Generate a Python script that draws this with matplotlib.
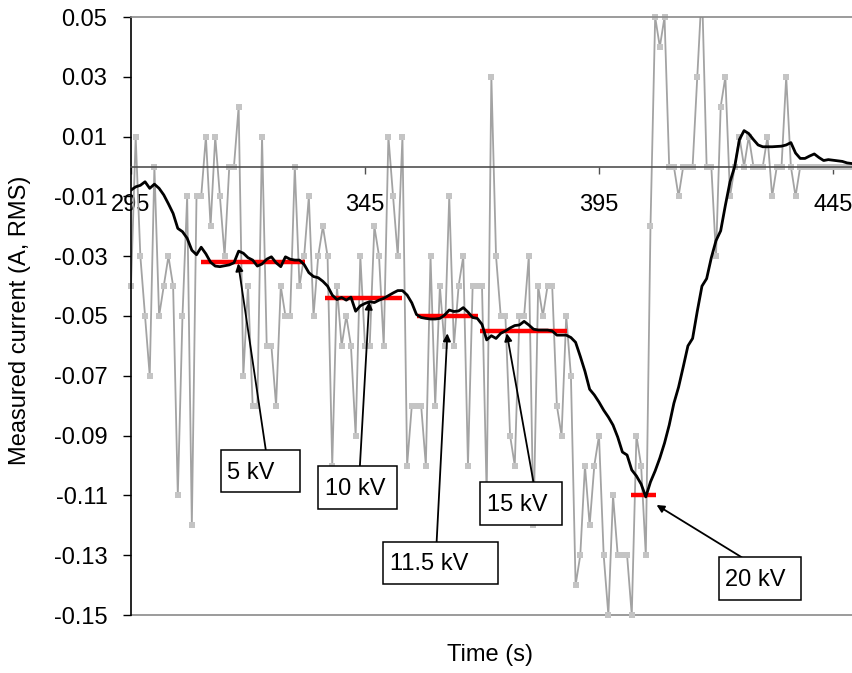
import matplotlib
matplotlib.use('Agg')
import matplotlib.pyplot as plt
from matplotlib.patches import Rectangle

plt.rcParams['font.family'] = ['Liberation Sans', 'DejaVu Sans']
plt.rcParams['axes.unicode_minus'] = False

# ---------------- data ----------------
time_s = list(range(295, 450))

measured = [
    -0.04, 0.01, -0.03, -0.05, -0.07, 0.00, -0.05, -0.04, -0.03, -0.04,
    -0.11, -0.05, -0.01, -0.12, -0.01, -0.01, 0.01, -0.02, 0.01, -0.01,
    -0.03, 0.00, 0.00, 0.02, -0.07, -0.04, -0.08, -0.08, 0.01, -0.06,
    -0.06, -0.08, -0.04, -0.05, -0.05, 0.00, -0.04, -0.03, -0.01, -0.05,
    -0.03, -0.02, -0.03, -0.10, -0.04, -0.06, -0.05, -0.06, -0.09, -0.03,
    -0.06, -0.06, -0.02, -0.03, -0.06, 0.01, -0.01, -0.03, 0.01, -0.10,
    -0.08, -0.08, -0.08, -0.10, -0.03, -0.08, -0.04, -0.06, -0.01, -0.06,
    -0.04, -0.03, -0.10, -0.04, -0.04, -0.04, -0.11, 0.03, -0.03, -0.05,
    -0.05, -0.09, -0.10, -0.05, -0.05, -0.03, -0.12, -0.04, -0.05, -0.04,
    -0.04, -0.08, -0.09, -0.05, -0.07, -0.14, -0.13, -0.10, -0.12, -0.10,
    -0.09, -0.13, -0.15, -0.11, -0.13, -0.13, -0.13, -0.15, -0.09, -0.10,
    -0.13, -0.02, 0.05, 0.04, 0.05, 0.00, 0.00, -0.01, 0.00, 0.00,
    0.00, 0.03, 0.06, 0.00, 0.00, -0.03, 0.02, 0.03, -0.01, 0.00,
    0.01, 0.00, 0.01, 0.00, 0.00, 0.00, 0.01, -0.01, 0.00, 0.00,
    0.03, 0.00, -0.01, 0.00, 0.00, 0.00, 0.00, 0.00, 0.00, 0.00,
    0.00, 0.00, 0.00, 0.00, 0.00,
]

smoothed = [
    -0.0079, -0.0068, -0.0063, -0.0051, -0.0073, -0.0059, -0.0073, -0.0095, -0.0125, -0.0157,
    -0.0207, -0.0218, -0.0240, -0.0280, -0.0295, -0.0270, -0.0292, -0.0320, -0.0333, -0.0335,
    -0.0332, -0.0329, -0.0322, -0.0283, -0.0290, -0.0305, -0.0313, -0.0333, -0.0326, -0.0310,
    -0.0302, -0.0322, -0.0335, -0.0302, -0.0310, -0.0313, -0.0313, -0.0328, -0.0355, -0.0368,
    -0.0372, -0.0384, -0.0400, -0.0430, -0.0445, -0.0438, -0.0447, -0.0437, -0.0484, -0.0466,
    -0.0458, -0.0452, -0.0455, -0.0447, -0.0441, -0.0432, -0.0423, -0.0415, -0.0415, -0.0430,
    -0.0456, -0.0495, -0.0505, -0.0508, -0.0510, -0.0510, -0.0508, -0.0497, -0.0480, -0.0485,
    -0.0483, -0.0472, -0.0487, -0.0505, -0.0508, -0.0528, -0.0580, -0.0566, -0.0575, -0.0558,
    -0.0550, -0.0540, -0.0532, -0.0530, -0.0518, -0.0530, -0.0544, -0.0547, -0.0547, -0.0547,
    -0.0550, -0.0564, -0.0564, -0.0564, -0.0572, -0.0588, -0.0635, -0.0685, -0.0745, -0.0764,
    -0.0788, -0.0815, -0.0838, -0.0865, -0.0905, -0.0955, -0.0965, -0.1015, -0.1035, -0.1062,
    -0.1105, -0.1055, -0.1018, -0.0975, -0.0925, -0.0865, -0.0792, -0.0738, -0.0670, -0.0600,
    -0.0575, -0.0484, -0.0400, -0.0375, -0.0305, -0.0248, -0.0215, -0.0130, -0.0051, 0.0000,
    0.0090, 0.0120, 0.0110, 0.0090, 0.0072, 0.0066, 0.0066, 0.0066, 0.0067, 0.0068,
    0.0072, 0.0080, 0.0045, 0.0027, 0.0027, 0.0035, 0.0042, 0.0030, 0.0020, 0.0023,
    0.0021, 0.0019, 0.0017, 0.0012, 0.0010,
]

# voltage step levels (red bars)
step_labels = ['5 kV', '10 kV', '11.5 kV', '15 kV', '20 kV']
step_start = [310.0, 336.5, 356.2, 369.6, 401.8]
step_end = [332.2, 352.8, 369.2, 388.1, 407.2]
step_level = [-0.032, -0.044, -0.050, -0.055, -0.110]

x_ticks = [295, 345, 395, 445]
x_tick_labels = ['295', '345', '395', '445']
y_ticks = [0.05, 0.03, 0.01, -0.01, -0.03, -0.05, -0.07, -0.09, -0.11, -0.13, -0.15]
y_tick_labels = ['0.05', '0.03', '0.01', '-0.01', '-0.03', '-0.05', '-0.07',
                 '-0.09', '-0.11', '-0.13', '-0.15']

# ---------------- figure ----------------
W, H = 852, 673
fig = plt.figure(figsize=(W / 100, H / 100), dpi=100)
ax = fig.add_axes([131 / W, 58 / H, 721 / W, 598 / H])
ax.set_xlim(295, 295 + 721 / 4.68)
ax.set_ylim(-0.15, 0.05)

ax.plot(time_s, measured, color='#A3A3A3', lw=1.3, zorder=2)
ax.plot(time_s, measured, ls='none', marker='s', ms=4.2, mew=0,
        mfc='#C4C4C4', clip_on=False, zorder=2.2)
ax.hlines(step_level, step_start, step_end, colors='red', lw=3.2, zorder=3)
ax.plot(time_s, smoothed, color='black', lw=2.0, zorder=4)

# spines
ax.spines['right'].set_visible(False)
ax.spines['top'].set_color('#8A8A8A')
ax.spines['top'].set_linewidth(1.2)
ax.spines['left'].set_color('black')
ax.spines['left'].set_linewidth(1.2)
ax.spines['bottom'].set_position(('data', 0))
ax.spines['bottom'].set_color('#505050')
ax.spines['bottom'].set_linewidth(1.2)
ax.axhline(-0.15, color='#8A8A8A', lw=1.2, clip_on=False, zorder=1)

ax.set_xticks(x_ticks)
ax.set_xticklabels(x_tick_labels)
ax.set_yticks(y_ticks)
ax.set_yticklabels(y_tick_labels)
ax.tick_params(axis='x', direction='out', length=5, width=1, pad=15,
               labelsize=17, color='#505050')
ax.tick_params(axis='y', direction='out', length=6, width=1, pad=11,
               labelsize=17)

# annotation boxes: (box t0, t1, v_top, v_bottom, text t, arrow start, arrow tip)
boxes = [
    (314.2, 331.1, -0.0948, -0.1089, 315.5, (323.8, -0.0948), (317.9, -0.0324)),
    (335.0, 351.8, -0.1002, -0.1146, 336.5, (343.9, -0.1004), (345.9, -0.0452)),
    (348.9, 373.4, -0.1256, -0.1396, 350.3, (360.3, -0.1257), (362.6, -0.0558)),
    (369.6, 387.1, -0.1055, -0.1199, 371.1, (381.0, -0.1056), (375.3, -0.0558)),
    (420.6, 438.2, -0.1306, -0.1450, 421.9, (425.5, -0.1307), (407.3, -0.1132)),
]
for lab, (t0, t1, vt, vb, tx, start, tip) in zip(step_labels, boxes):
    ax.annotate('', xy=tip, xytext=start,
                arrowprops=dict(arrowstyle='-|>', color='black', lw=1.3,
                                mutation_scale=11, shrinkA=0, shrinkB=0),
                zorder=5)
    ax.add_patch(Rectangle((t0, vb), t1 - t0, vt - vb, facecolor='white',
                           edgecolor='black', lw=1.1, zorder=6, clip_on=False))
    ax.text(tx, (vt + vb) / 2 - 0.0005, lab, ha='left', va='center',
            fontsize=17, zorder=7)

fig.text(20 / W, 1 - 320 / H, 'Measured current (A, RMS)', rotation=90,
         ha='center', va='center', fontsize=17)
fig.text(490 / W, 1 - 655 / H, 'Time (s)', ha='center', va='center', fontsize=17)

fig.savefig('out.png', dpi=100)
